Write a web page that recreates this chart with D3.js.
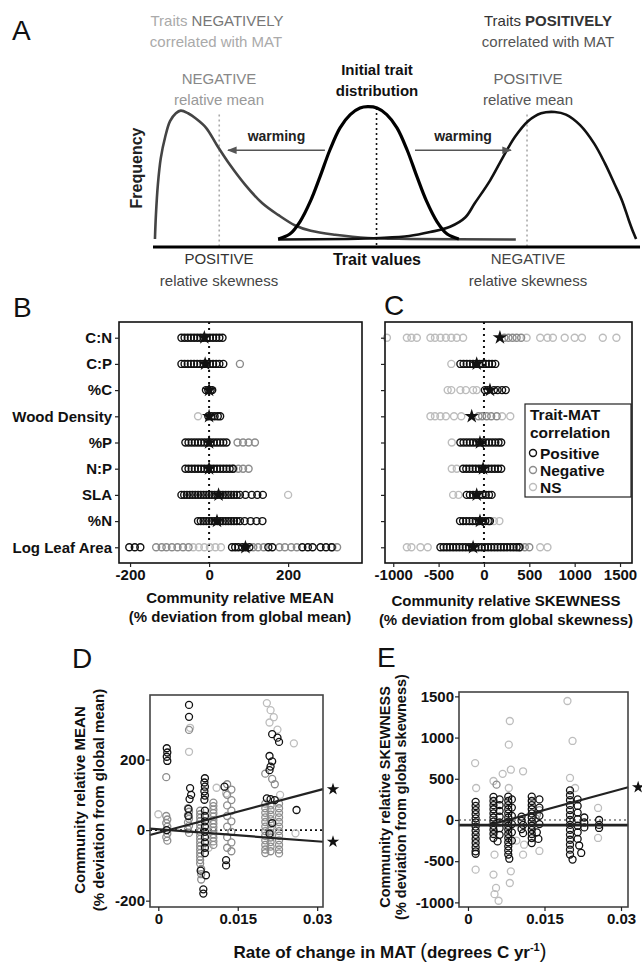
<!DOCTYPE html>
<html>
<head>
<meta charset="utf-8">
<script src="https://cdn.jsdelivr.net/npm/d3@7"></script>
<style>
  body { margin: 0; background: #fff; }
  text { font-family: "Liberation Sans", Arial, Helvetica, sans-serif; }
</style>
</head>
<body>
<div id="fig"></div>
<script>
// ---------- data ----------
// panel A: schematic frequency curves, [trait value, frequency]
var curveNegShift = [[0.4,0.008],[0.6,0.19],[1.0,0.42],[1.6,0.62],[2.5,0.78],[3.5,0.90],[4.7,0.96],[5.7,0.98],
  [7.2,0.96],[8.8,0.92],[10.9,0.85],[13.1,0.72],[15.8,0.57],[18.9,0.42],[22.4,0.28],[25.7,0.19],[29.2,0.11],
  [32.4,0.07],[37.4,0.04],[44.1,0.015],[52.8,0.008],[74.5,0.004]];
var curveInitial = [[25.7,0.008],[28.1,0.045],[30.2,0.14],[32.4,0.30],[34.3,0.48],[36.3,0.68],[38.4,0.85],[40.5,0.95],
  [42.5,1.0],[44.1,1.01],[46.0,1.0],[48.0,0.95],[50.1,0.85],[52.2,0.68],[54.2,0.48],[56.1,0.30],[58.3,0.14],
  [60.4,0.045],[62.8,0.008]];
var curvePosShift = [[25.7,0.004],[40.0,0.008],[46.6,0.015],[52.6,0.03],[56.9,0.06],[61.0,0.10],[64.1,0.17],[66.1,0.28],
  [69.2,0.45],[71.9,0.63],[74.3,0.78],[77.0,0.90],[79.7,0.96],[82.5,0.97],[84.8,0.95],[87.7,0.87],[90.6,0.73],
  [92.8,0.58],[94.7,0.43],[96.3,0.30],[97.7,0.15],[98.6,0.06],[99.2,0.008]];
var curveMeans = [13.6, 45.9, 76.8];
var warmArrows = [[35.3, 15.4], [53.8, 73.5]];

// panels B, C
var traits = ["C:N", "C:P", "%C", "Wood Density", "%P", "N:P", "SLA", "%N", "Log Leaf Area"];

var meanPositive = [
  [-70,-62,-54,-46,-38,-30,-22,-14,-6,2,10,18,26,34],
  [-70,-62,-54,-46,-38,-30,-22,-14,-6,2,10,18,26,36],
  [-8,-2,4,8],
  [-2,6,14,22,28],
  [-60,-52,-44,-36,-28,-20,-12,-4,4,12,20,28,36,44],
  [-60,-52,-44,-36,-28,-20,-12,-4,4,12,20,28,36,44,52,60],
  [-70,-63,-56,-49,-42,-35,-28,-21,-14,-7,0,7,14,21,28,35,42,49,56,63,70,78,92,108,122,136],
  [-28,-21,-14,-7,0,7,14,21,28,35,42,49,56,63,70,78,90,105,120,135],
  [-202,-188,-174,58,66,74,84,92,102,150,160,236,250,262,282,296,310]
];
var meanNegative = [[], [78], [], [], [72,86,100,116], [62,74,86,100], [], [],
  [-134,-120,-108,-94,-80,-66,-52,112,124,138,178,192,208,222,312,324]];
var meanNS = [[], [], [], [-28], [], [], [200], [], [-40,-26,-12,2,16,30]];
var meanStars = [-12, -10, 0, 0, 0, 0, 24, 20, 92];

var skewPositive = [
  [],
  [-260,-225,-190,-155,-120,-85,-50,-15,20,55,90,125],
  [10,40,110,150,200,240],
  [],
  [-260,-225,-190,-155,-120,-85,-50,-15,20,55,90,125,160,190],
  [-230,-195,-160,-125,-90,-55,-20,15,50,85,120,155,190],
  [-190,-155,-120,-85,-50,-15,20,55,84],
  [-264,-230,-195,-160,-125,-90,-55,-20,15,50,66],
  [-480,-445,-410,-375,-340,-305,-270,-235,-200,-165,-130,-95,-60,-25,10,45,80,115,150,185,220,255,290,325,360,390]
];
var skewNegative = [[225,270,315,360,410], [], [], [-60,-20,30,80,140], [], [], [], [], [400,450,500]];
var skewNS = [
  [-1070,-850,-800,-740,-590,-540,-480,-420,-360,-300,-230,470,620,700,760,890,1000,1080,1310,1460],
  [-360],
  [-400,-360,-260,-200,-120,-80],
  [-590,-540,-480,-420,-330,-250,200,290],
  [-355],
  [-355,-300],
  [-340,-280],
  [110,170],
  [-850,-800,-700,-620,620,700]
];
var skewStars = [176, -80, 66, -135, -44, -10, -80, -44, -120];

// panel D: [rate of change in MAT, community relative mean]
var rateMeanPositive = [[0.0016,232],[0.0017,220],[0.0016,208],[0.0017,196],[0.0016,0],
  [0.0058,355],[0.0058,321],[0.0060,119],[0.0062,100],[0.0059,88],[0.0057,60],[0.0057,40],
  [0.0088,147],[0.0087,135],[0.0088,123],[0.0087,110],[0.0088,98],[0.0087,86],
  [0.0088,55],[0.0088,40],[0.0088,25],[0.0088,10],[0.0088,-5],[0.0088,-20],[0.0088,-35],[0.0088,-50],[0.0088,-65],
  [0.0080,-115],[0.0090,-128],[0.0085,-168],[0.0085,-180],
  [0.0125,123],[0.0128,-85],[0.0128,-100],
  [0.0215,272],[0.0225,262],[0.0228,250],[0.0210,210],[0.0215,195],[0.0212,180],[0.0210,170],
  [0.0205,90],[0.0212,88],[0.0220,85],[0.0215,20],[0.0210,-10],[0.0261,57]];
var rateMeanNegative = [[0.0015,150],
  [0.0015,40],[0.0017,30],[0.0015,20],[0.0017,10],[0.0015,0],[0.0017,-10],[0.0015,-20],[0.0017,-30],
  [0.0056,62],[0.0058,52],[0.0056,42],[0.0058,32],[0.0056,22],[0.0058,12],[0.0056,2],[0.0058,-8],[0.0058,284],
  [0.0079,55],[0.0079,45],[0.0079,35],[0.0079,25],[0.0079,15],[0.0079,5],[0.0079,-5],[0.0079,-15],[0.0079,-25],
  [0.0079,-35],[0.0079,-45],[0.0079,-55],[0.0079,-65],[0.0079,-75],[0.0079,-85],[0.0079,-95],[0.0081,-110],[0.0081,-125],[0.0081,-140],
  [0.0104,78],[0.0104,68],[0.0104,58],[0.0104,48],[0.0104,38],[0.0104,28],[0.0104,18],[0.0104,8],[0.0104,-2],
  [0.0104,-12],[0.0104,-22],[0.0104,-32],[0.0104,-42],
  [0.0130,130],[0.0138,115],[0.0130,100],[0.0138,85],[0.0130,70],[0.0138,55],[0.0130,40],[0.0138,25],[0.0130,10],
  [0.0138,-5],[0.0130,-20],[0.0138,-35],[0.0130,-50],[0.0138,-60],
  [0.0202,160],[0.0215,145],[0.0220,130],
  [0.0202,75],[0.0202,62],[0.0202,49],[0.0202,36],[0.0202,23],[0.0202,10],[0.0202,-3],[0.0202,-16],[0.0202,-29],[0.0202,-42],[0.0202,-55],[0.0202,-65],
  [0.0212,70],[0.0212,57],[0.0212,44],[0.0212,31],[0.0212,18],[0.0212,5],[0.0212,-8],[0.0212,-21],[0.0212,-34],[0.0212,-47],[0.0212,-60],
  [0.0228,75],[0.0228,62],[0.0228,49],[0.0228,36],[0.0228,23],[0.0228,10],[0.0228,-3],[0.0228,-16],[0.0228,-29],[0.0228,-42],[0.0228,-55],[0.0228,-66]];
var rateMeanNS = [[0.0058,222],[0.0060,290],[0.0128,104],[0.0205,360],[0.0212,340],[0.0218,320],[0.0210,305],
  [0.0225,285],[0.0256,246],[0.0259,-9],[0.0230,100],[0.0095,-50],[0.0000,45],[0.0110,120]];
var meanTrendUp = [[-0.0016,-14],[0.0311,116]];
var meanTrendDown = [[-0.0016,4],[0.0311,-33]];

// panel E: [rate of change in MAT, community relative skewness]
var rateSkewPositive = [
  [0.0015,220],[0.0015,170],[0.0015,120],[0.0015,70],[0.0015,20],[0.0015,-30],[0.0015,-80],[0.0015,-130],[0.0015,-180],
  [0.0015,-230],[0.0015,-280],[0.0015,-330],[0.0015,-380],[0.0015,-410],
  [0.0050,280],[0.0050,230],[0.0050,180],[0.0050,130],[0.0050,80],[0.0050,30],[0.0050,-20],[0.0050,-70],[0.0050,-120],[0.0050,-170],[0.0050,-220],
  [0.0062,250],[0.0062,180],[0.0062,110],[0.0062,40],[0.0062,-30],[0.0062,-100],[0.0062,-180],[0.0058,-260],
  [0.0079,283],[0.0079,230],[0.0079,180],[0.0079,130],[0.0079,80],[0.0079,30],[0.0079,-20],[0.0079,-70],[0.0079,-120],
  [0.0079,-170],[0.0079,-220],[0.0079,-270],[0.0079,-320],[0.0079,-370],[0.0079,-420],[0.0081,-470],
  [0.0086,250],[0.0086,150],[0.0086,50],[0.0086,-50],[0.0086,-150],[0.0086,-250],
  [0.0105,40],[0.0105,-10],[0.0108,-60],[0.0105,-110],[0.0108,-160],
  [0.0125,283],[0.0125,230],[0.0125,180],[0.0125,130],[0.0125,80],[0.0125,30],[0.0125,-20],[0.0125,-70],[0.0125,-120],
  [0.0125,-170],[0.0125,-220],[0.0125,-280],
  [0.0140,250],[0.0140,150],[0.0140,50],[0.0140,-50],[0.0135,-150],[0.0138,-230],
  [0.0200,360],[0.0200,300],[0.0200,240],[0.0200,180],[0.0200,120],[0.0200,60],[0.0200,0],[0.0200,-60],[0.0200,-120],
  [0.0200,-180],[0.0200,-240],[0.0200,-300],[0.0200,-360],[0.0200,-420],[0.0205,-480],
  [0.0215,250],[0.0215,170],[0.0215,90],[0.0215,10],[0.0215,-70],[0.0215,-150],[0.0215,-230],[0.0218,-310],[0.0222,-400],
  [0.0228,30],[0.0228,-30],[0.0228,-90],[0.0257,0],[0.0257,-60],[0.0257,-97]];
var rateSkewNegative = [[0.0056,429],[0.0135,64],[0.0140,120],[0.0133,20]];
var rateSkewNS = [[0.0014,690],[0.0016,388],[0.0015,-603],[0.0050,473],[0.0052,-421],[0.0050,-663],[0.0055,-825],
  [0.0052,-900],[0.0060,-980],[0.0082,1201],[0.0080,914],[0.0084,610],[0.0080,388],[0.0084,-623],[0.0082,-765],
  [0.0108,591],[0.0110,-300],[0.0108,-421],[0.0140,-376],[0.0195,1444],[0.0205,959],[0.0200,510],[0.0210,388],
  [0.0255,146],[0.0255,-218],[0.0068,560],[0.0095,-250]];
var skewTrendFlat = [[-0.0018,-62],[0.0314,-62]];
var skewTrendUp = [[0.004,-62],[0.0314,397]];

var meanTicks = [-200, 0, 200];
var skewTicks = [-1000, -500, 0, 500, 1000, 1500];
var rateTicks = [0, 0.015, 0.03];

var colPos = "#111", colNeg = "#8c8c8c", colNS = "#bdbdbd";

// ---------- svg ----------
var svg = d3.select("#fig").append("svg")
    .attr("width", 642)
    .attr("height", 965);

function label(g, x, y, txt, size, weight, color, anchor) {
  return g.append("text")
    .attr("x", x).attr("y", y)
    .attr("text-anchor", anchor || "middle")
    .style("font-size", size + "px")
    .style("font-weight", weight || "normal")
    .attr("fill", color || "#111")
    .text(txt);
}

function styleAxis(g, size) {
  g.select(".domain").remove();
  g.selectAll(".tick line").attr("stroke", "#222").attr("stroke-width", 1.2);
  g.selectAll(".tick text")
    .style("font-size", (size || 15) + "px")
    .style("font-weight", "bold")
    .style("font-family", "'Liberation Sans', Arial, sans-serif")
    .attr("fill", "#111");
}

var star = d3.symbol().type(d3.symbolStar);

// ---------- panel A ----------
var gA = svg.append("g");
var ax = d3.scaleLinear().domain([0, 100]).range([153, 640]);
var ay = d3.scaleLinear().domain([0, 1]).range([240, 108]);
var curve = d3.line().x(function(d) { return ax(d[0]); }).y(function(d) { return ay(d[1]); })
    .curve(d3.curveCatmullRom.alpha(0.5));

svg.append("defs").append("marker")
    .attr("id", "arrow").attr("viewBox", "0 0 10 10")
    .attr("refX", 9).attr("refY", 5)
    .attr("markerWidth", 6).attr("markerHeight", 6)
    .attr("orient", "auto-start-reverse")
  .append("path").attr("d", "M0,1 L10,5 L0,9 Z").attr("fill", "#555");

// dotted mean lines
gA.selectAll("line.mean").data(curveMeans).enter().append("line")
    .attr("x1", function(d) { return ax(d); }).attr("x2", function(d) { return ax(d); })
    .attr("y1", function(d, i) { return i === 1 ? ay(1.0) : ay(0.95); })
    .attr("y2", ay(0) + 7)
    .attr("stroke", function(d, i) { return i === 1 ? "#111" : "#aaa"; })
    .attr("stroke-width", 1.6)
    .attr("stroke-dasharray", "2,3");

gA.append("path").datum(curveNegShift).attr("d", curve)
    .attr("fill", "none").attr("stroke", "#444").attr("stroke-width", 2.6);
gA.append("path").datum(curvePosShift).attr("d", curve)
    .attr("fill", "none").attr("stroke", "#111").attr("stroke-width", 2.6);
gA.append("path").datum(curveInitial).attr("d", curve)
    .attr("fill", "none").attr("stroke", "#000").attr("stroke-width", 3.2);

// baseline
gA.append("line").attr("x1", ax(0)).attr("x2", ax(100))
    .attr("y1", ay(0) + 7).attr("y2", ay(0) + 7)
    .attr("stroke", "#000").attr("stroke-width", 3);

// warming arrows
gA.selectAll("line.warm").data(warmArrows).enter().append("line")
    .attr("x1", function(d) { return ax(d[0]); }).attr("x2", function(d) { return ax(d[1]); })
    .attr("y1", ay(0.68)).attr("y2", ay(0.68))
    .attr("stroke", "#555").attr("stroke-width", 1.6)
    .attr("marker-end", "url(#arrow)");
warmArrows.forEach(function(d) {
  label(gA, ax((d[0] + d[1]) / 2), ay(0.68) - 9, "warming", 14, "bold", "#222");
});

label(gA, 12, 40, "A", 28, "normal", "#111", "start");
var t1 = label(gA, 217, 26, "", 15, "normal", "#aaa");
t1.append("tspan").text("Traits ");
t1.append("tspan").attr("fill", "#777").text("NEGATIVELY");
label(gA, 216, 47, "correlated with MAT", 15, "normal", "#aaa");
var t2 = label(gA, 548, 26, "", 15, "normal", "#333");
t2.append("tspan").text("Traits ");
t2.append("tspan").attr("font-weight", "bold").text("POSITIVELY");
label(gA, 548, 47, "correlated with MAT", 15, "normal", "#555");
label(gA, 377, 75, "Initial trait", 15, "bold", "#111");
label(gA, 377, 96, "distribution", 15, "bold", "#111");
label(gA, 219, 84, "NEGATIVE", 15, "normal", "#888");
label(gA, 219, 105, "relative mean", 15, "normal", "#999");
label(gA, 528, 84, "POSITIVE", 15, "normal", "#666");
label(gA, 528, 105, "relative mean", 15, "normal", "#555");
label(gA, 377, 265, "Trait values", 16, "bold", "#111");
label(gA, 219, 264, "POSITIVE", 15, "normal", "#333");
label(gA, 219, 286, "relative skewness", 15, "normal", "#444");
label(gA, 528, 264, "NEGATIVE", 15, "normal", "#444");
label(gA, 528, 286, "relative skewness", 15, "normal", "#444");
gA.append("text").attr("transform", "translate(142,168) rotate(-90)")
    .attr("text-anchor", "middle").style("font-size", "16px").style("font-weight", "bold")
    .attr("fill", "#222").text("Frequency");

// ---------- panels B and C ----------
var rowY = d3.scalePoint().domain(traits).range([322, 563]).padding(0.6);

function dotPanel(g, xs, pos, neg, ns, stars, ticks) {
  var r = xs.range(), top = 322, bottom = 563;
  g.append("line").attr("x1", xs(0)).attr("x2", xs(0)).attr("y1", top).attr("y2", bottom)
      .attr("stroke", "#111").attr("stroke-width", 2).attr("stroke-dasharray", "2,4");
  [[ns, colNS], [neg, colNeg], [pos, colPos]].forEach(function(set) {
    var flat = [];
    set[0].forEach(function(vals, i) { vals.forEach(function(v) { flat.push({t: traits[i], v: v}); }); });
    g.append("g").selectAll("circle").data(flat).enter().append("circle")
        .attr("cx", function(d) { return xs(d.v); })
        .attr("cy", function(d) { return rowY(d.t); })
        .attr("r", 3.5).attr("fill", "none")
        .attr("stroke", set[1]).attr("stroke-width", 1.4);
  });
  g.append("g").selectAll("path").data(stars).enter().append("path")
      .attr("d", star.size(65))
      .attr("transform", function(d, i) { return "translate(" + xs(d) + "," + rowY(traits[i]) + ")"; })
      .attr("fill", "#111");
  g.append("rect").attr("x", r[0]).attr("y", top).attr("width", r[1] - r[0]).attr("height", bottom - top)
      .attr("fill", "none").attr("stroke", "#111").attr("stroke-width", 1.6);
  g.append("g").attr("transform", "translate(0," + bottom + ")")
      .call(d3.axisBottom(xs).tickValues(ticks).tickSize(4).tickPadding(2).tickFormat(function(d) { return String(d); }))
      .call(function(a) { styleAxis(a, 15); });
}

var gB = svg.append("g");
var bx = d3.scaleLinear().domain([-228, 387]).range([119, 362]);
dotPanel(gB, bx, meanPositive, meanNegative, meanNS, meanStars, meanTicks);
gB.append("g").attr("transform", "translate(119,0)")
    .call(d3.axisLeft(rowY).tickSize(4).tickPadding(3))
    .call(function(a) { styleAxis(a, 15); });
label(gB, 13, 317, "B", 28, "normal", "#111", "start");
label(gB, 240, 603, "Community relative MEAN", 15, "bold", "#111");
label(gB, 240, 622, "(% deviation from global mean)", 15, "bold", "#111");

var gC = svg.append("g");
var cx = d3.scaleLinear().domain([-1091, 1632]).range([385, 632]);
dotPanel(gC, cx, skewPositive, skewNegative, skewNS, skewStars, skewTicks);
gC.append("g").attr("transform", "translate(385,0)")
    .call(d3.axisLeft(rowY).tickSize(4).tickFormat(""))
    .call(function(a) { styleAxis(a, 15); });
label(gC, 384, 315, "C", 28, "normal", "#111", "start");
label(gC, 506, 606, "Community relative SKEWNESS", 15, "bold", "#111");
label(gC, 506, 625, "(% deviation from global skewness)", 15, "bold", "#111");

// legend
var lg = gC.append("g");
lg.append("rect").attr("x", 525).attr("y", 404).attr("width", 106).attr("height", 93)
    .attr("fill", "#fff").attr("stroke", "#222").attr("stroke-width", 1.2);
label(lg, 530, 420, "Trait-MAT", 15.5, "bold", "#111", "start");
label(lg, 530, 438, "correlation", 15.5, "bold", "#111", "start");
[["Positive", colPos], ["Negative", colNeg], ["NS", colNS]].forEach(function(d, i) {
  var y = 453 + i * 17;
  lg.append("circle").attr("cx", 533).attr("cy", y).attr("r", 3.5)
      .attr("fill", "none").attr("stroke", d[1]).attr("stroke-width", 1.4);
  label(lg, 540, y + 5.5, d[0], 15.5, "bold", "#111", "start");
});

// ---------- panels D and E ----------
function scatterPanel(g, xs, ys, pos, neg, ns, trends, yTicks, zeroColor) {
  var xr = xs.range(), yr = ys.range();
  g.append("line").attr("x1", xr[0]).attr("x2", xr[1]).attr("y1", ys(0)).attr("y2", ys(0))
      .attr("stroke", zeroColor).attr("stroke-width", 1.8).attr("stroke-dasharray", "2,3");
  [[ns, colNS], [neg, colNeg], [pos, colPos]].forEach(function(set) {
    g.append("g").selectAll("circle").data(set[0]).enter().append("circle")
        .attr("cx", function(d) { return xs(d[0]); })
        .attr("cy", function(d) { return ys(d[1]); })
        .attr("r", 3.5).attr("fill", "none")
        .attr("stroke", set[1]).attr("stroke-width", 1.3);
  });
  var ln = d3.line().x(function(d) { return xs(d[0]); }).y(function(d) { return ys(d[1]); });
  trends.forEach(function(t) {
    g.append("path").datum(t.pts).attr("d", ln)
        .attr("fill", "none").attr("stroke", "#222").attr("stroke-width", t.w);
    if (t.star) {
      var e = t.pts[t.pts.length - 1];
      g.append("path").attr("d", star.size(48))
          .attr("transform", "translate(" + (xs(e[0]) + 10) + "," + ys(e[1]) + ")")
          .attr("fill", "#111");
    }
  });
  g.append("rect").attr("x", xr[0]).attr("y", yr[1]).attr("width", xr[1] - xr[0]).attr("height", yr[0] - yr[1])
      .attr("fill", "none").attr("stroke", "#444").attr("stroke-width", 1.6);
  g.append("g").attr("transform", "translate(0," + yr[0] + ")")
      .call(d3.axisBottom(xs).tickValues(rateTicks).tickSize(4).tickPadding(2).tickFormat(function(d) { return String(d); }))
      .call(function(a) { styleAxis(a, 15); });
  g.append("g").attr("transform", "translate(" + xr[0] + ",0)")
      .call(d3.axisLeft(ys).tickValues(yTicks).tickSize(4).tickPadding(1).tickFormat(function(d) { return String(d); }))
      .call(function(a) { styleAxis(a, 15); });
}

var gD = svg.append("g");
var dx = d3.scaleLinear().domain([-0.00157, 0.0311]).range([150, 323]);
var dy = d3.scaleLinear().domain([-218, 383]).range([907, 695]);
scatterPanel(gD, dx, dy, rateMeanPositive, rateMeanNegative, rateMeanNS,
  [{pts: meanTrendUp, w: 2.2, star: true}, {pts: meanTrendDown, w: 2.2, star: true}], meanTicks, "#111");
label(gD, 72, 668, "D", 28, "normal", "#111", "start");
gD.append("text").attr("transform", "translate(85,800) rotate(-90)")
    .attr("text-anchor", "middle").style("font-size", "15px").style("font-weight", "bold")
    .attr("fill", "#111").text("Community relative MEAN");
gD.append("text").attr("transform", "translate(104,800) rotate(-90)")
    .attr("text-anchor", "middle").style("font-size", "15px").style("font-weight", "bold")
    .attr("fill", "#111").text("(% deviation from global mean)");

var gE = svg.append("g");
var ex = d3.scaleLinear().domain([-0.00176, 0.03137]).range([459, 628]);
var ey = d3.scaleLinear().domain([-1056, 1553]).range([907, 692]);
scatterPanel(gE, ex, ey, rateSkewPositive, rateSkewNegative, rateSkewNS,
  [{pts: skewTrendFlat, w: 2.8, star: false}, {pts: skewTrendUp, w: 2.2, star: true}], skewTicks, "#999");
label(gE, 377, 667, "E", 28, "normal", "#111", "start");
gE.append("text").attr("transform", "translate(390,797) rotate(-90)")
    .attr("text-anchor", "middle").style("font-size", "14.5px").style("font-weight", "bold")
    .attr("fill", "#111").text("Community relative SKEWNESS");
gE.append("text").attr("transform", "translate(406,797) rotate(-90)")
    .attr("text-anchor", "middle").style("font-size", "14.5px").style("font-weight", "bold")
    .attr("fill", "#111").text("(% deviation from global skewness)");

// shared x title
var xt = label(svg, 390, 958, "", 17, "bold", "#111");
xt.append("tspan").text("Rate of change in MAT ");
xt.append("tspan").style("font-size", "20px").style("font-weight", "normal").text("(");
xt.append("tspan").text("degrees C yr");
xt.append("tspan").attr("dy", -7).style("font-size", "11px").text("-1");
xt.append("tspan").attr("dy", 7).style("font-size", "20px").style("font-weight", "normal").text(")");
</script>
</body>
</html>
